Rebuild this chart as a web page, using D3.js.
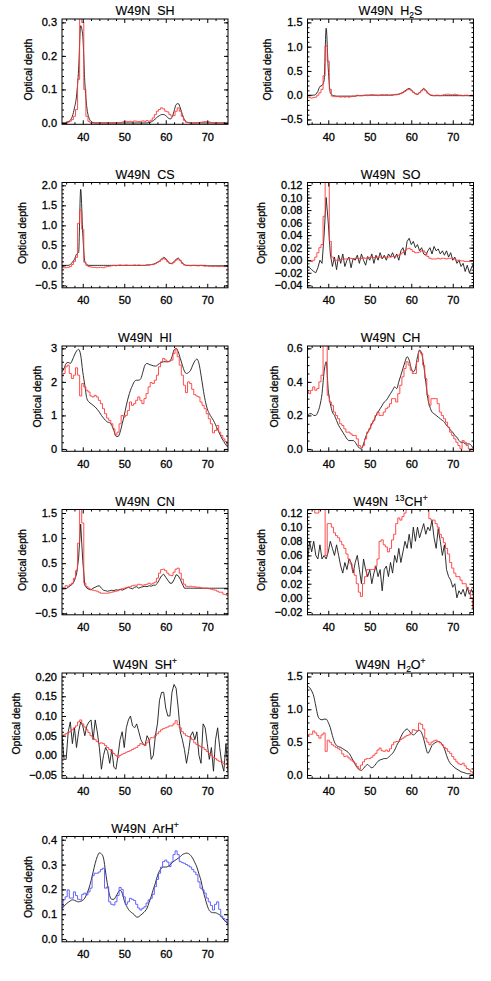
<!DOCTYPE html>
<html><head><meta charset="utf-8">
<script src="https://cdn.jsdelivr.net/npm/d3@7"></script>
<style>
body{margin:0;background:#fff}
svg{display:block}
text{font-family:"Liberation Sans",Arial,Helvetica,sans-serif;fill:#000}
</style>
</head><body>
<svg id="chart" width="491" height="981"></svg>
<script>
// ---------------- data ----------------
const vel = [35,35.5,36,36.5,37,37.5,38,38.5,39,39.5,40,40.5,41,41.5,42,42.5,43,43.5,44,44.5,45,45.5,46,46.5,47,47.5,48,48.5,49,49.5,50,50.5,51,51.5,52,52.5,53,53.5,54,54.5,55,55.5,56,56.5,57,57.5,58,58.5,59,59.5,60,60.5,61,61.5,62,62.5,63,63.5,64,64.5,65,65.5,66,66.5,67,67.5,68,68.5,69,69.5,70,70.5,71,71.5,72,72.5,73,73.5,74,74.5,75];
const xTicks = [40,50,60,70];

const shFit = [0,0,0.002,0.004,0.008,0.02,0.045,0.08,0.16,0.29,
0.26,0.12,0.045,0.015,0.005,0.001,0,0,0,0,
0,0,0,0,0,0,0,0,0,0,
0,0,0,0,0,0,0,0,0,0,
0,0,0.001,0.003,0.007,0.012,0.018,0.022,0.025,0.025,
0.022,0.016,0.012,0.016,0.035,0.055,0.058,0.045,0.025,0.01,
0.003,0.001,0,0,0,0,0,0,0,0,
0,0,0,0,0,0,0,0,0,0,
0];
const shObs = [0,0,0,0.002,0.005,0.01,0.02,0.04,0.13,0.34,
0.3,0.1,0.02,0.005,0,0,0,0,0,0,
0,0,0,0,0,0,0,0,0,0.002,
0.004,0.005,0.004,0.005,0.004,0.006,0.005,0.004,0.005,0.006,
0.005,0.007,0.005,0.008,0.015,0.025,0.035,0.04,0.045,0.042,
0.035,0.033,0.025,0.02,0.022,0.035,0.045,0.035,0.02,0.008,
0.002,0.001,0,0,0,0.001,0.001,0.002,0.003,0.004,
0.004,0.003,0.001,0,0,0,0,0,0,0,
0];

const h2sFit = [0,0,0,0,0.02,0.08,0.18,0.2,0.3,1.38,
0.55,0.05,0,-0.01,-0.02,-0.02,-0.02,-0.02,-0.02,-0.02,
-0.02,-0.02,-0.02,-0.02,-0.01,-0.01,-0.01,-0.01,0,0,
0,0,0,0,0,0,0,0,0,0,
0,0,0.01,0.01,0.02,0.04,0.06,0.09,0.12,0.14,
0.11,0.07,0.03,0.02,0.05,0.1,0.14,0.1,0.05,0.01,
-0.01,-0.01,-0.01,-0.01,-0.01,-0.01,-0.01,-0.01,-0.01,-0.01,
-0.01,-0.01,-0.01,-0.01,-0.01,-0.01,-0.01,-0.01,-0.01,-0.01,
-0.01];
const h2sObs = [-0.05,-0.05,-0.06,-0.05,-0.04,0,0.05,0.12,0.4,1.02,
0.7,0.12,-0.02,-0.03,-0.03,-0.03,-0.04,-0.03,-0.04,-0.03,
-0.04,-0.03,-0.02,-0.02,0,-0.01,-0.01,0,0,-0.01,
0,0.01,0,0,-0.01,0,0.01,0,0.01,0,
0,0.01,0.01,0.02,0.02,0.03,0.05,0.08,0.11,0.12,
0.1,0.06,0.03,0.02,0.05,0.09,0.12,0.09,0.04,0.01,
0,-0.01,0,0,-0.01,0,0.01,0.02,0.02,0.01,
0.01,0.02,0.01,0,0,-0.01,0,0,-0.01,0,
0];

const csFit = [0,0,0,0,0.02,0.08,0.15,0.28,0.32,1.9,
0.8,0.1,0.02,0,0,0,0,0,0,0,
0,0,0,0,0,0,0,0,0,0,
0,0,0,0,0,0,0,0,0,0,
0,0.01,0.01,0.02,0.03,0.05,0.08,0.11,0.16,0.2,
0.17,0.1,0.05,0.05,0.1,0.15,0.18,0.13,0.06,0.02,
0,0,0,0,0,0,0,0,0,0,
-0.01,-0.01,-0.01,-0.01,-0.01,-0.01,-0.01,-0.01,-0.01,-0.01,
-0.01];
const csObs = [-0.05,-0.06,-0.06,-0.05,-0.03,0.02,0.1,0.2,1.05,1.38,
0.9,0.08,0,-0.03,-0.04,-0.05,-0.05,-0.06,-0.05,-0.05,
-0.06,-0.04,-0.03,-0.02,-0.01,0,-0.01,0,0.01,0,
0,0.01,0,0,0,0.01,0,0.01,0,0,
0,0.01,0.01,0.02,0.02,0.04,0.07,0.1,0.14,0.17,
0.15,0.09,0.05,0.04,0.08,0.13,0.16,0.12,0.05,0.01,
0,0,-0.01,0,0,-0.01,-0.01,0,-0.01,-0.02,
-0.01,-0.02,-0.02,-0.03,-0.02,-0.03,-0.03,-0.02,-0.03,-0.03,
-0.03];

const soFit = [-0.01,-0.012,-0.015,-0.018,-0.02,-0.012,0,-0.005,0.04,0.1,
0.06,0.01,-0.01,0.005,-0.015,0.008,-0.005,0.01,-0.01,0,
0.005,-0.012,0.003,0,0.008,-0.005,0.01,0,-0.008,0.006,
0,0.01,-0.005,0.008,0,0.012,0.002,0.008,0,0.01,
0.005,0.012,0.003,0.01,0,0.015,0.02,0.008,0.03,0.035,
0.025,0.03,0.02,0.025,0.015,0.02,0.01,0.008,0.015,0.02,
0.01,0.022,0.015,0.018,0.01,0.015,0.008,0.015,0.005,0.012,
0,0.005,-0.005,0,-0.01,-0.005,-0.018,-0.008,-0.02,-0.012,
-0.005];
const soObs = [0,-0.001,-0.002,0,0.005,0.012,0.02,0.025,0.07,0.13,
0.13,0.03,0.005,0,0,0,0.001,0.002,0.002,0.002,
0.002,0.003,0.002,0.003,0.003,0.003,0.003,0.004,0.003,0.004,
0.004,0.005,0.004,0.005,0.005,0.005,0.004,0.005,0.005,0.005,
0.005,0.006,0.006,0.007,0.008,0.01,0.012,0.015,0.018,0.019,
0.017,0.014,0.012,0.012,0.013,0.015,0.015,0.012,0.006,0.003,
0.002,0.002,0.002,0.003,0.002,0.003,0.003,0.002,0.003,0.003,
0.003,0.002,0,0,-0.001,-0.001,-0.002,-0.002,-0.002,-0.002,
-0.002];

const hiFit = [2.3,2.4,2.55,2.58,2.55,2.65,2.8,2.92,2.97,2.8,
2.3,1.9,1.5,1.4,1.35,1.3,1.25,1.18,1.1,1.0,
0.92,0.85,0.8,0.78,0.7,0.55,0.38,0.37,0.5,0.75,
1.0,1.3,1.55,1.75,1.9,2.02,2.05,2.05,2.1,2.3,
2.5,2.55,2.52,2.5,2.48,2.47,2.5,2.55,2.58,2.6,
2.6,2.6,2.62,2.75,2.95,3.0,2.9,2.7,2.5,2.32,
2.25,2.28,2.35,2.5,2.62,2.68,2.55,2.2,1.8,1.45,
1.2,1.05,0.95,0.85,0.72,0.58,0.45,0.32,0.22,0.12,
0.05];
const hiObs = [2.2,2.25,2.45,2.5,2.25,2.1,2.2,2.42,2.2,1.58,
1.95,1.85,1.75,1.7,1.58,1.55,1.6,1.55,1.45,1.35,
1.2,1.05,0.92,0.85,0.75,0.6,0.42,0.5,0.75,1.0,
0.95,1.0,1.15,1.4,1.3,1.35,1.45,1.55,1.45,1.35,
1.5,1.65,1.85,1.98,1.95,2.05,2.2,2.45,2.6,2.7,
2.65,2.6,2.62,2.65,2.85,2.98,2.75,2.5,2.2,1.9,
1.68,2.0,1.95,1.78,1.62,1.58,1.55,1.4,1.3,1.2,
1.05,0.9,0.75,0.48,0.55,0.7,0.5,0.4,0.3,0.22,
0.1];

const chFit = [0.2,0.21,0.21,0.2,0.2,0.22,0.26,0.33,0.46,0.52,
0.35,0.27,0.22,0.2,0.17,0.14,0.12,0.1,0.08,0.06,
0.05,0.05,0.05,0.04,0.02,0.005,0,0.03,0.07,0.1,
0.12,0.15,0.17,0.2,0.22,0.24,0.26,0.28,0.29,0.31,
0.33,0.35,0.37,0.36,0.4,0.44,0.48,0.52,0.55,0.53,
0.48,0.46,0.48,0.55,0.59,0.57,0.5,0.4,0.3,0.25,
0.22,0.21,0.2,0.19,0.18,0.17,0.16,0.14,0.13,0.11,
0.1,0.08,0.07,0.05,0.04,0.04,0.03,0.03,0.03,0.02,
0];
const chObs = [0.34,0.33,0.35,0.37,0.35,0.36,0.4,0.44,0.62,0.7,
0.32,0.28,0.26,0.22,0.2,0.18,0.15,0.14,0.12,0.1,
0.1,0.09,0.08,0.08,0.06,0.02,0.01,0.02,0.06,0.1,
0.12,0.15,0.17,0.2,0.22,0.2,0.2,0.22,0.24,0.25,
0.27,0.3,0.3,0.28,0.33,0.38,0.43,0.48,0.52,0.5,
0.47,0.45,0.45,0.52,0.58,0.57,0.5,0.42,0.32,0.26,
0.3,0.3,0.3,0.27,0.22,0.2,0.18,0.16,0.13,0.1,
0.08,0.06,0.04,0.02,0,0.05,0.04,0.02,0,0,
0];

const cnFit = [0,0,-0.01,0.02,0.05,0.08,0.15,0.28,0.6,1.28,
0.55,0.06,0,-0.02,-0.03,0,0.02,0.04,0.05,0,
-0.04,-0.05,-0.06,-0.05,-0.04,-0.05,-0.03,-0.04,-0.02,-0.04,
-0.02,0,0.02,0,-0.01,0.02,0.03,0,0.02,0.03,
0.04,0.03,0.05,0.04,0.06,0.06,0.1,0.18,0.25,0.28,
0.22,0.16,0.1,0.1,0.17,0.27,0.25,0.18,0.08,0,
0,0,0,0,0,0,0,0,0,0,
0,0,0,0,0,0,0,0,0,0,
0];
const cnObs = [0.02,0,0.05,0.04,0.07,0.1,0.2,0.35,0.9,1.65,
1.3,0.1,0.03,0,-0.03,-0.04,-0.05,-0.06,-0.08,-0.1,
-0.1,-0.1,-0.1,-0.09,-0.08,-0.07,-0.06,-0.05,-0.03,-0.01,
0,0.01,0.02,0.03,0.05,0.06,0.06,0.08,0.07,0.06,
0.07,0.08,0.1,0.08,0.1,0.12,0.2,0.3,0.37,0.38,
0.35,0.3,0.26,0.25,0.32,0.38,0.4,0.3,0.18,0.08,
0.04,0.03,0.04,0.03,0.03,0.02,0.02,0.01,0,0,
0,-0.01,-0.02,-0.03,-0.04,-0.06,-0.08,-0.08,-0.12,-0.13,
-0.15];

const ch13Fit = [0.05,0.08,0.065,0.08,0.06,0.055,0.075,0.055,0.06,0.055,
0.065,0.08,0.07,0.06,0.075,0.06,0.045,0.035,0.05,0.04,
0.055,0.05,0.035,0.05,0.06,0.04,0.02,0.055,0.04,0.03,
0.04,0.02,0.035,0.045,0.03,0.04,0.01,0.04,0.045,0.03,
0.05,0.035,0.06,0.05,0.07,0.05,0.065,0.08,0.07,0.09,
0.07,0.1,0.08,0.1,0.085,0.095,0.105,0.09,0.1,0.095,
0.11,0.085,0.07,0.098,0.08,0.06,0.075,0.04,0.03,0.025,
0.015,0.02,0,0.01,0.005,0.012,0.002,0.015,0.005,0.012,
0.005];
const ch13Obs = [0.14,0.14,0.135,0.13,0.12,0.12,0.125,0.13,0.13,0.06,
0.105,0.105,0.1,0.092,0.088,0.085,0.08,0.075,0.07,0.062,
0.055,0.048,0.04,0.032,0.02,0.008,0.002,0.02,0.03,0.04,
0.04,0.04,0.04,0.045,0.055,0.08,0.082,0.075,0.072,0.065,
0.07,0.082,0.09,0.105,0.113,0.11,0.115,0.12,0.125,0.13,
0.13,0.13,0.13,0.13,0.13,0.13,0.13,0.13,0.125,0.112,
0.11,0.11,0.105,0.1,0.09,0.085,0.078,0.07,0.062,0.05,
0.042,0.035,0.03,0.03,0.025,0.02,0.02,0.015,0.01,0,
-0.015];

const shpFit = [0.05,-0.01,-0.01,0.06,0.085,0.03,0.07,0.02,0.06,0.085,
0.075,0.05,0.075,0.085,0.09,0.04,0.09,0.06,0.02,-0.035,
0,0.02,0.01,-0.02,0.015,-0.03,-0.035,0,0.04,0.06,
0.02,0.07,0.09,0.1,0.075,0.07,0.08,0.06,0.04,0.03,
0.025,0.05,0.04,-0.01,0,0.05,0.08,0.14,0.16,0.16,
0.12,0.1,0.1,0.16,0.18,0.17,0.12,0.06,0.04,0.015,
-0.02,0.01,0.05,0.06,0.04,0.06,0,-0.02,0.08,0.07,
0.03,-0.01,0.02,-0.04,0.04,0.07,0.02,-0.02,-0.04,0.03,
-0.04];
const shpObs = [0.05,0.052,0.055,0.058,0.06,0.065,0.07,0.075,0.085,0.09,
0.08,0.072,0.065,0.058,0.05,0.045,0.04,0.035,0.03,0.032,
0.03,0.025,0.02,0.015,0.01,0.005,0,-0.005,0,0.003,
0.005,0.008,0.01,0.012,0.015,0.018,0.02,0.025,0.03,0.028,
0.025,0.032,0.04,0.045,0.045,0.05,0.055,0.06,0.065,0.068,
0.07,0.072,0.075,0.075,0.08,0.088,0.078,0.07,0.06,0.055,
0.05,0.048,0.045,0.04,0.032,0.028,0.025,0.022,0.02,0.015,
0.01,0.005,0,-0.005,-0.008,-0.012,-0.015,-0.015,-0.02,-0.022,
-0.025];

const h2opFit = [1.35,1.33,1.28,1.2,1.05,0.9,0.85,0.84,0.85,0.85,
0.8,0.72,0.6,0.5,0.45,0.43,0.42,0.4,0.38,0.36,
0.33,0.28,0.22,0.16,0.11,0.08,0.07,0.1,0.14,0.16,
0.13,0.11,0.13,0.17,0.21,0.23,0.24,0.25,0.25,0.27,
0.3,0.33,0.38,0.45,0.51,0.58,0.64,0.68,0.7,0.67,
0.63,0.61,0.63,0.67,0.68,0.64,0.55,0.42,0.33,0.38,
0.45,0.48,0.5,0.51,0.5,0.46,0.4,0.3,0.22,0.17,
0.14,0.11,0.09,0.07,0.05,0.04,0.03,0.02,0.02,0.01,
0.01];
const h2opObs = [0.6,0.62,0.62,0.67,0.64,0.6,0.56,0.61,0.64,0.36,
0.53,0.5,0.46,0.44,0.42,0.4,0.38,0.32,0.28,0.29,
0.26,0.23,0.21,0.18,0.13,0.09,0.15,0.2,0.24,0.25,
0.25,0.27,0.3,0.33,0.38,0.41,0.37,0.36,0.38,0.36,
0.4,0.46,0.5,0.51,0.51,0.54,0.56,0.58,0.6,0.61,
0.64,0.69,0.68,0.67,0.79,0.77,0.7,0.56,0.5,0.46,
0.5,0.52,0.53,0.51,0.49,0.46,0.42,0.4,0.36,0.33,
0.28,0.24,0.2,0.17,0.16,0.18,0.14,0.1,0.08,0.05,
0.03];

const arhpFit = [0.124,0.133,0.141,0.148,0.154,0.158,0.156,0.152,0.15,0.152,
0.156,0.165,0.183,0.205,0.235,0.27,0.305,0.332,0.347,0.343,
0.326,0.27,0.215,0.175,0.16,0.16,0.172,0.187,0.197,0.185,
0.155,0.135,0.12,0.11,0.104,0.097,0.088,0.09,0.097,0.104,
0.112,0.125,0.148,0.172,0.2,0.225,0.255,0.275,0.286,0.29,
0.29,0.292,0.298,0.307,0.314,0.32,0.325,0.332,0.34,0.344,
0.346,0.344,0.337,0.325,0.308,0.29,0.262,0.235,0.195,0.164,
0.135,0.115,0.108,0.106,0.106,0.102,0.097,0.088,0.077,0.069,
0.063];
const arhpObs = [0.124,0.158,0.17,0.198,0.165,0.165,0.19,0.175,0.16,0.158,
0.18,0.185,0.178,0.19,0.205,0.255,0.265,0.265,0.27,0.28,
0.285,0.205,0.21,0.15,0.14,0.137,0.15,0.175,0.208,0.2,
0.17,0.14,0.15,0.164,0.16,0.155,0.14,0.125,0.117,0.124,
0.13,0.145,0.158,0.164,0.18,0.211,0.24,0.265,0.29,0.312,
0.318,0.31,0.292,0.31,0.34,0.355,0.34,0.312,0.308,0.305,
0.3,0.295,0.29,0.28,0.27,0.259,0.23,0.205,0.198,0.185,
0.165,0.15,0.135,0.117,0.14,0.15,0.12,0.092,0.083,0.072,
0.063];

const shTicks = [0,0.1,0.2,0.3];
const h2sTicks = [-0.5,0,0.5,1.0,1.5];
const csTicks = [-0.5,0,0.5,1.0,1.5,2.0];
const soTicks = [-0.04,-0.02,0,0.02,0.04,0.06,0.08,0.10,0.12];
const hiTicks = [0,1,2,3];
const chTicks = [0,0.2,0.4,0.6];
const cnTicks = [-0.5,0,0.5,1.0,1.5];
const ch13Ticks = [-0.02,0,0.02,0.04,0.06,0.08,0.10,0.12];
const shpTicks = [-0.05,0,0.05,0.10,0.15,0.20];
const h2opTicks = [0,0.5,1.0,1.5];
const arhpTicks = [0,0.1,0.2,0.3,0.4];

// ---------------- layout ----------------
const RED = "#ff3a3a", BLUE = "#5252ff", BLACK = "#1a1a1a";
const panels = [
 {r:0,c:0, title:[["W49N  SH",0]], yd:[-0.004,0.31], ticks:shTicks, dec:1, minor:0.02, a:shFit, b:shObs, col:RED, smooth:true},
 {r:0,c:1, title:[["W49N  H",0],["2",-1],["S",0]], yd:[-0.6,1.57], ticks:h2sTicks, dec:1, minor:0.1, a:h2sFit, b:h2sObs, col:RED, smooth:true},
 {r:1,c:0, title:[["W49N  CS",0]], yd:[-0.56,2.07], ticks:csTicks, dec:1, minor:0.1, a:csFit, b:csObs, col:RED, smooth:true},
 {r:1,c:1, title:[["W49N  SO",0]], yd:[-0.044,0.124], ticks:soTicks, dec:2, minor:0.005, a:soFit, b:soObs, col:RED, smooth:false},
 {r:2,c:0, title:[["W49N  HI",0]], yd:[-0.07,3.07], ticks:hiTicks, dec:0, minor:0.2, a:hiFit, b:hiObs, col:RED, smooth:true},
 {r:2,c:1, title:[["W49N  CH",0]], yd:[-0.014,0.614], ticks:chTicks, dec:1, minor:0.05, a:chFit, b:chObs, col:RED, smooth:true},
 {r:3,c:0, title:[["W49N  CN",0]], yd:[-0.53,1.57], ticks:cnTicks, dec:1, minor:0.1, a:cnFit, b:cnObs, col:RED, smooth:false},
 {r:3,c:1, title:[["W49N  ",0],["13",1],["CH",0],["+",1]], yd:[-0.024,0.125], ticks:ch13Ticks, dec:2, minor:0.005, a:ch13Fit, b:ch13Obs, col:RED, smooth:false},
 {r:4,c:0, title:[["W49N  SH",0],["+",1]], yd:[-0.058,0.209], ticks:shpTicks, dec:2, minor:0.01, a:shpFit, b:shpObs, col:RED, smooth:false},
 {r:4,c:1, title:[["W49N  H",0],["2",-1],["O",0],["+",1]], yd:[-0.05,1.552], ticks:h2opTicks, dec:1, minor:0.1, a:h2opFit, b:h2opObs, col:RED, smooth:true},
 {r:5,c:0, title:[["W49N  ArH",0],["+",1]], yd:[-0.011,0.413], ticks:arhpTicks, dec:1, minor:0.02, a:arhpFit, b:arhpObs, col:BLUE, smooth:true}
];

const cellW = 245.5, cellH = 163.5;
const box = {l:62, r:228, t:19, b:124.3};
const xDomain = [35,75];
const xMinor = [36,38,42,44,46,48,52,54,56,58,62,64,66,68,72,74];

const svg = d3.select("#chart");

function styleAxis(g){
  g.select(".domain").remove();
  g.selectAll("line").attr("stroke","#000").attr("stroke-width",1);
  g.selectAll("text").attr("font-family",'"Liberation Sans",Arial,Helvetica,sans-serif')
    .attr("font-size",11).attr("fill","#000").attr("stroke","#000").attr("stroke-width",0.3);
}

panels.forEach((p,i)=>{
  const g = svg.append("g").attr("transform",`translate(${p.c*cellW},${p.r*cellH})`);
  const x = d3.scaleLinear().domain(xDomain).range([box.l,box.r]);
  const y = d3.scaleLinear().domain(p.yd).range([box.b,box.t]);
  const cid = "clip"+i;
  g.append("clipPath").attr("id",cid).append("rect")
    .attr("x",box.l).attr("y",box.t).attr("width",box.r-box.l).attr("height",box.b-box.t);
  const lg = g.append("g").attr("clip-path",`url(#${cid})`);

  const lineA = d3.line().x((d,j)=>x(vel[j])).y(d=>y(d)).curve(p.smooth?d3.curveMonotoneX:d3.curveLinear);
  const lineB = d3.line().x((d,j)=>x(vel[j])).y(d=>y(d)).curve(d3.curveStep);
  lg.append("path").datum(p.a).attr("d",lineA).attr("fill","none").attr("stroke",BLACK).attr("stroke-width",0.9);
  lg.append("path").datum(p.b).attr("d",lineB).attr("fill","none").attr("stroke",p.col).attr("stroke-width",0.9);

  const yMin = Math.ceil((p.yd[0]-1e-9)/p.minor), yMax = Math.floor((p.yd[1]+1e-9)/p.minor);
  const yMinor = d3.range(yMin,yMax+1).map(k=>+(k*p.minor).toFixed(4));

  // bottom
  g.append("g").attr("transform",`translate(0,${box.b})`)
    .call(d3.axisBottom(x).tickValues(xMinor).tickSizeInner(-2).tickSizeOuter(0).tickFormat(""))
    .call(styleAxis);
  g.append("g").attr("transform",`translate(0,${box.b})`)
    .call(d3.axisBottom(x).tickValues(xTicks).tickSizeInner(-4).tickSizeOuter(0).tickPadding(8.5).tickFormat(d3.format("d")))
    .call(styleAxis);
  // top
  g.append("g").attr("transform",`translate(0,${box.t})`)
    .call(d3.axisTop(x).tickValues(xMinor).tickSizeInner(-2).tickSizeOuter(0).tickFormat(""))
    .call(styleAxis);
  g.append("g").attr("transform",`translate(0,${box.t})`)
    .call(d3.axisTop(x).tickValues(xTicks).tickSizeInner(-4).tickSizeOuter(0).tickFormat(""))
    .call(styleAxis);
  // left
  g.append("g").attr("transform",`translate(${box.l},0)`)
    .call(d3.axisLeft(y).tickValues(yMinor).tickSizeInner(-2).tickSizeOuter(0).tickFormat(""))
    .call(styleAxis);
  const ly = g.append("g").attr("transform",`translate(${box.l},0)`)
    .call(d3.axisLeft(y).tickValues(p.ticks).tickSizeInner(-4).tickSizeOuter(0).tickPadding(5).tickFormat(d3.format(`.${p.dec}f`)))
    .call(styleAxis);
  // right
  g.append("g").attr("transform",`translate(${box.r},0)`)
    .call(d3.axisRight(y).tickValues(yMinor).tickSizeInner(-2).tickSizeOuter(0).tickFormat(""))
    .call(styleAxis);
  g.append("g").attr("transform",`translate(${box.r},0)`)
    .call(d3.axisRight(y).tickValues(p.ticks).tickSizeInner(-4).tickSizeOuter(0).tickFormat(""))
    .call(styleAxis);

  g.append("rect").attr("x",box.l).attr("y",box.t).attr("width",box.r-box.l).attr("height",box.b-box.t)
    .attr("fill","none").attr("stroke","#000").attr("stroke-width",1);

  // title
  const t = g.append("text").attr("x",(box.l+box.r)/2).attr("y",15)
    .attr("text-anchor","middle").attr("font-size",12.5).attr("stroke","#000").attr("stroke-width",0.15)
    .style("white-space","pre");
  let cur = 0;
  p.title.forEach(([s,k])=>{
    const off = k===1?-5:(k===-1?3:0);
    t.append("tspan").text(s).attr("dy",off-cur).attr("font-size",k===0?12.5:8.5);
    cur = off;
  });

  // y title
  let maxW = 0;
  ly.selectAll("text").each(function(){ maxW = Math.max(maxW,this.getComputedTextLength()); });
  const tx = box.l - 5 - maxW - 9.5, ty = (box.t+box.b)/2 - 2;
  g.append("text").attr("transform",`translate(${tx},${ty}) rotate(-90)`)
    .attr("text-anchor","middle").attr("font-size",10.5).attr("stroke","#000").attr("stroke-width",0.25)
    .text("Optical depth");
});
</script>
</body></html>
